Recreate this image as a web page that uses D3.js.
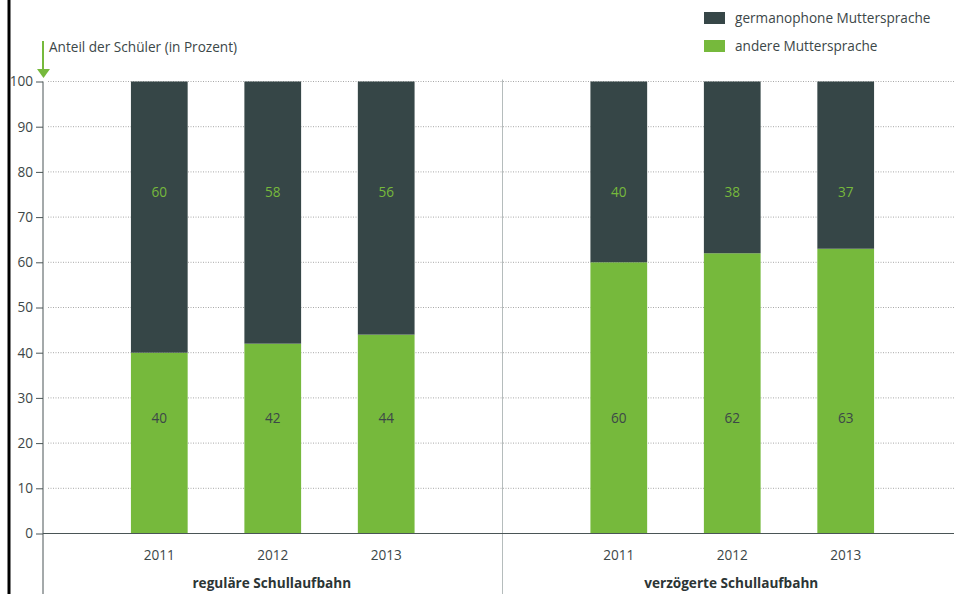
<!DOCTYPE html>
<html>
<head>
<meta charset="utf-8">
<script src="https://cdn.jsdelivr.net/npm/d3@7"></script>
<style>
  body { margin: 0; background: #fff; }
  svg { display: block; font-family: "Open Sans", "Noto Sans", sans-serif; }
</style>
</head>
<body>
<div id="chart"></div>
<script>
// Data
const groups = ["reguläre Schullaufbahn", "verzögerte Schullaufbahn"];
const years = ["2011", "2012", "2013"];
const andere = [[40, 42, 44], [60, 62, 63]];
const germano = [[60, 58, 56], [40, 38, 37]];
const yTicks = [0, 10, 20, 30, 40, 50, 60, 70, 80, 90, 100];

const dark = "#364647";
const green = "#76b93c";
const textCol = "#3c4748";
const fs = 13.6;

const W = 954, H = 594;
const svg = d3.select("#chart").append("svg")
    .attr("width", W)
    .attr("height", H);

// scales
const y = d3.scaleLinear().domain([0, 100]).range([533.5, 81.5]);
const xGroup = d3.scaleBand().domain(groups).range([43, 962]);
const xYear = d3.scaleBand().domain(years)
    .range([0, xGroup.bandwidth()])
    .paddingInner(0.5)
    .paddingOuter(0.775);

// thick black rule at the far left
svg.append("line")
    .attr("x1", 9).attr("x2", 9)
    .attr("y1", 0).attr("y2", H)
    .attr("stroke", "#000")
    .attr("stroke-width", 3);

// dotted gridlines
svg.append("g")
    .selectAll("line")
    .data(yTicks.filter(d => d > 0))
    .join("line")
    .attr("x1", 48).attr("x2", W)
    .attr("y1", d => y(d)).attr("y2", d => y(d))
    .attr("stroke", "#a8a8a8")
    .attr("stroke-width", 1)
    .attr("stroke-dasharray", "1,1.5");

// group divider
svg.append("line")
    .attr("x1", xGroup(groups[1])).attr("x2", xGroup(groups[1]))
    .attr("y1", y(100) - 2).attr("y2", H)
    .attr("stroke", "#b5bcbc")
    .attr("stroke-width", 1);

// bars
groups.forEach((g, gi) => {
    const gx = xGroup(g);
    const gEl = svg.append("g").attr("transform", `translate(${gx},0)`);

    const rows = years.map((yr, i) => ({ yr, a: andere[gi][i], b: germano[gi][i] }));

    gEl.selectAll("rect.andere")
        .data(rows)
        .join("rect")
        .attr("class", "andere")
        .attr("x", d => xYear(d.yr))
        .attr("width", xYear.bandwidth())
        .attr("y", d => y(d.a))
        .attr("height", d => y(0) - y(d.a))
        .attr("fill", green);

    gEl.selectAll("rect.germano")
        .data(rows)
        .join("rect")
        .attr("class", "germano")
        .attr("x", d => xYear(d.yr))
        .attr("width", xYear.bandwidth())
        .attr("y", d => y(100))
        .attr("height", d => y(d.a) - y(100))
        .attr("fill", dark);

    // value labels
    gEl.selectAll("text.va")
        .data(rows)
        .join("text")
        .attr("class", "va")
        .attr("x", d => xYear(d.yr) + xYear.bandwidth() / 2)
        .attr("y", y(25) + 2)
        .attr("text-anchor", "middle")
        .attr("font-size", fs)
        .attr("fill", textCol)
        .text(d => d.a);

    gEl.selectAll("text.vb")
        .data(rows)
        .join("text")
        .attr("class", "vb")
        .attr("x", d => xYear(d.yr) + xYear.bandwidth() / 2)
        .attr("y", y(75) + 2)
        .attr("text-anchor", "middle")
        .attr("font-size", fs)
        .attr("fill", green)
        .text(d => d.b);

    // year labels
    gEl.selectAll("text.yr")
        .data(years)
        .join("text")
        .attr("class", "yr")
        .attr("x", d => xYear(d) + xYear.bandwidth() / 2)
        .attr("y", 560)
        .attr("text-anchor", "middle")
        .attr("font-size", fs)
        .attr("fill", textCol)
        .text(d => d);

    gEl.append("text")
        .attr("x", xGroup.bandwidth() / 2 - 1)
        .attr("y", 588)
        .attr("text-anchor", "middle")
        .attr("font-size", fs)
        .attr("font-weight", "bold")
        .attr("fill", "#2c3535")
        .text(g);
});

// zero baseline
svg.append("line")
    .attr("x1", 43).attr("x2", W)
    .attr("y1", y(0)).attr("y2", y(0))
    .attr("stroke", "#4a5556")
    .attr("stroke-width", 1.2);

// y axis
const yAxis = d3.axisLeft(y)
    .tickValues(yTicks)
    .tickSize(7)
    .tickPadding(3);

const yG = svg.append("g")
    .attr("transform", "translate(43,0)")
    .call(yAxis);
yG.select(".domain").remove();
yG.selectAll(".tick line").attr("stroke", "#4a5556");
yG.selectAll(".tick text")
    .attr("font-size", fs)
    .attr("font-family", "'Open Sans', 'Noto Sans', sans-serif")
    .attr("fill", textCol);

svg.append("line")
    .attr("x1", 43).attr("x2", 43)
    .attr("y1", y(100)).attr("y2", H)
    .attr("stroke", "#4a5556")
    .attr("stroke-width", 1);

// axis title with green arrow
svg.append("line")
    .attr("x1", 43).attr("x2", 43)
    .attr("y1", 41).attr("y2", 71)
    .attr("stroke", green)
    .attr("stroke-width", 2);
svg.append("path")
    .attr("d", "M37,69 L50,69 L43.5,78 Z")
    .attr("fill", green);
svg.append("text")
    .attr("x", 49)
    .attr("y", 52)
    .attr("font-size", fs)
    .attr("fill", textCol)
    .text("Anteil der Schüler (in Prozent)");

// legend
const legend = [
    { label: "germanophone Muttersprache", color: dark },
    { label: "andere Muttersprache", color: green }
];
const lg = svg.append("g").attr("transform", "translate(704,12)");
legend.forEach((d, i) => {
    lg.append("rect")
        .attr("x", 0).attr("y", i * 28)
        .attr("width", 21).attr("height", 12)
        .attr("fill", d.color);
    lg.append("text")
        .attr("x", 31).attr("y", i * 28 + 11)
        .attr("font-size", fs)
        .attr("fill", textCol)
        .text(d.label);
});
</script>
</body>
</html>
